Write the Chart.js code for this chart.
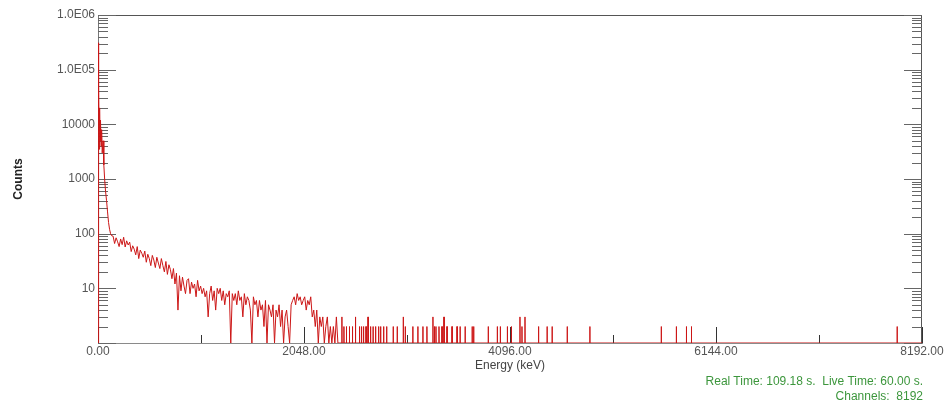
<!DOCTYPE html>
<html lang="en">
<head>
<meta charset="UTF-8">
<title>Gamma Spectrum</title>
<script src="https://cdn.jsdelivr.net/npm/chart.js"></script>
<style>
  html, body { margin: 0; padding: 0; background: #fff; }
  #wrap { position: relative; width: 947px; height: 404px; }
  #info {
    position: absolute; right: 24px; top: 374px;
    font: 12px 'Liberation Sans', Arial, sans-serif; line-height: 15px;
    color: #3c963c; text-align: right; white-space: pre;
  }
</style>
</head>
<body>
<div id="wrap">
  <canvas id="spectrum" width="947" height="404"></canvas>
  <div id="info">Real Time: 109.18 s.  Live Time: 60.00 s.
Channels:  8192</div>
</div>
<script>
// low-energy peak (keV / counts)
const peakEnergy = [0, 3, 6, 9, 12, 16, 20, 25, 30, 36, 42, 50, 58, 66, 75, 85, 95, 105, 115, 125, 135];
const peakCounts = [0, 310000, 6000, 50000, 3500, 20000, 5000, 12000, 4000, 8000, 3000, 5000, 1800, 1000, 600, 400, 250, 160, 120, 100, 92];

// continuum, 15 keV bins starting at 150 keV
const bodyStart = 150;
const bodyStep = 15;
const bodyCounts = [
  90, 66, 84, 71, 58, 80, 63, 86, 57, 74,
  62, 70, 47, 60, 52, 41, 58, 35, 50, 44,
  37, 48, 30, 42, 35, 26, 40, 33, 24, 37,
  29, 23, 35, 26, 20, 31, 18, 27, 22, 15,
  23, 12, 19, 4, 17, 9, 16, 11, 8, 14,
  15, 8, 13, 10, 12, 7, 14, 9, 11, 8,
  10, 7, 9, 3, 8, 11, 6, 9, 4, 10,
  8, 10, 6, 9, 5, 8, 7, 9, 1, 8,
  6, 8, 5, 9, 6, 7, 3, 8, 5, 7,
  6, 4, 1, 7, 5, 6, 3, 6, 4, 5,
  2, 6, 1, 5, 4, 3, 5, 1, 4, 3,
  5, 2, 4, 1, 3, 4, 2, 1, 5, 6,
  7, 5, 8, 6, 7, 5, 6, 7, 4, 6,
  5, 7, 3, 4, 2, 4, 1, 3, 2, 3,
  1, 2, 3, 1, 2, 1, 2, 1, 3, 1
];

// single occupied channels in the tail
const tailEnergy = [2425, 2445, 2470, 2500, 2530, 2560, 2600, 2620, 2640, 2665,
  2685, 2710, 2735, 2760, 2790, 2810, 2840, 2870, 2935, 2975,
  3035, 3055, 3130, 3180, 3230, 3270, 3330, 3345, 3360, 3390,
  3420, 3440, 3470, 3520, 3570, 3600, 3650, 3720, 3735, 3880,
  3970, 4000, 4070, 4110, 4195, 4215, 4245, 4380, 4465, 4515,
  4665, 4890, 5600, 5750, 5850, 5900, 7945];
const tailCounts = [3, 2, 2, 2, 2, 3, 2, 2, 2, 2,
  3, 2, 2, 2, 2, 2, 2, 2, 2, 2,
  3, 2, 2, 2, 2, 2, 3, 2, 2, 2,
  2, 3, 2, 2, 2, 2, 2, 2, 2, 2,
  2, 2, 2, 2, 3, 2, 3, 2, 2, 2,
  2, 2, 2, 2, 2, 2, 2];
const lastChannel = 8192;

const xTickValues = [0, 2048, 4096, 6144, 8192];
const xMinorValues = [1024, 3072, 5120, 7168];
const yTickValues = [10, 100, 1000, 10000, 100000, 1000000];
const yTickLabels = ['10', '100', '1000', '10000', '1.0E05', '1.0E06'];
const yDecades = [1, 10, 100, 1000, 10000, 100000];
const yMinorSteps = [2, 3, 4, 5, 6, 7, 8, 9];

// empty channels sit on the axis floor of the log scale
const floor = 1;
const points = [];
const add = (e, c) => points.push({ x: e, y: Math.max(c, floor) });
peakEnergy.forEach((e, i) => add(e, peakCounts[i]));
bodyCounts.forEach((c, i) => add(bodyStart + i * bodyStep, c));
tailEnergy.forEach((e, i) => { add(e - 1, 0); add(e, tailCounts[i]); add(e + 1, 0); });
add(lastChannel, 0);

const font = { family: "'Liberation Sans', Arial, sans-serif", size: 12 };

// inward tick marks on left, right and bottom, plus top/right frame
const frameTicks = {
  id: 'frameTicks',
  beforeDatasetsDraw(chart) {
    const { ctx, chartArea: a, scales: { x, y } } = chart;
    ctx.save();
    ctx.lineWidth = 1;
    ctx.strokeStyle = '#555';
    ctx.beginPath();
    ctx.moveTo(a.left, a.top + 0.5);
    ctx.lineTo(a.right, a.top + 0.5);
    ctx.moveTo(a.right - 0.5, a.top);
    ctx.lineTo(a.right - 0.5, a.bottom);
    ctx.stroke();

    ctx.strokeStyle = '#666';
    ctx.beginPath();
    const yTick = (v, len) => {
      const py = Math.round(y.getPixelForValue(v)) + 0.5;
      ctx.moveTo(a.left, py); ctx.lineTo(a.left + len, py);
      ctx.moveTo(a.right, py); ctx.lineTo(a.right - len, py);
    };
    yDecades.forEach(d => {
      yTick(d, 18);
      yMinorSteps.forEach(m => yTick(d * m, 10));
    });
    yTick(1000000, 18);
    ctx.stroke();

    ctx.strokeStyle = '#333';
    ctx.beginPath();
    const xTick = (v, len) => {
      const px = Math.round(x.getPixelForValue(v)) + 0.5;
      ctx.moveTo(px, a.bottom); ctx.lineTo(px, a.bottom - len);
    };
    xTickValues.forEach(v => xTick(v, 16));
    xMinorValues.forEach(v => xTick(v, 8));
    ctx.stroke();
    ctx.restore();
  }
};

new Chart(document.getElementById('spectrum'), {
  type: 'line',
  data: {
    datasets: [{
      data: points,
      borderColor: '#cc1616',
      borderWidth: 1,
      pointRadius: 0,
      tension: 0,
      fill: false
    }]
  },
  options: {
    responsive: false,
    animation: false,
    events: [],
    layout: { padding: { top: 15, right: 25, bottom: 0, left: 0 } },
    plugins: { legend: { display: false }, tooltip: { enabled: false } },
    scales: {
      x: {
        type: 'linear',
        min: 0,
        max: 8192,
        afterBuildTicks: s => { s.ticks = xTickValues.map(v => ({ value: v })); },
        afterFit: s => { s.height = 61; },
        ticks: { callback: v => v.toFixed(2), color: '#555', font, padding: 1, maxRotation: 0, autoSkip: false },
        grid: { display: false, drawTicks: false },
        border: { color: '#8a8a8a' },
        title: { display: true, text: 'Energy (keV)', color: '#444', font, padding: { top: 0, bottom: 31 } }
      },
      y: {
        type: 'logarithmic',
        min: 1,
        max: 1000000,
        afterBuildTicks: s => { s.ticks = yTickValues.map(v => ({ value: v })); },
        afterFit: s => { s.width = 98; },
        ticks: { callback: v => yTickLabels[yTickValues.indexOf(v)], color: '#555', font, padding: 3, autoSkip: false },
        grid: { display: false, drawTicks: false },
        border: { color: '#777' },
        title: { display: true, text: 'Counts', color: '#222', font: { ...font, weight: 'bold' }, padding: { top: 11, bottom: 0 } }
      }
    }
  },
  plugins: [frameTicks]
});
</script>
</body>
</html>
